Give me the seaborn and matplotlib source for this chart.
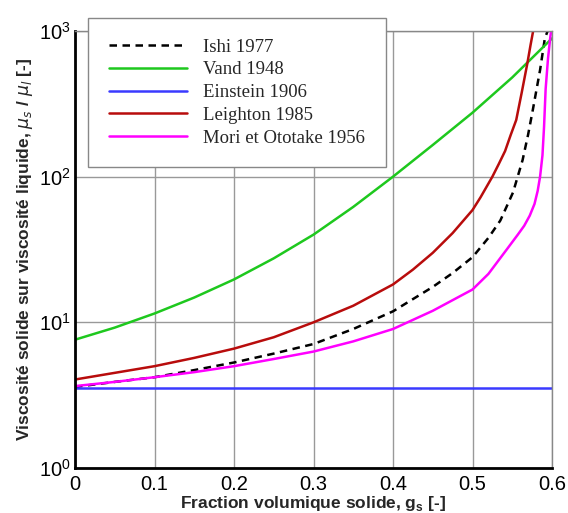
import numpy as np
import pandas as pd
import matplotlib
matplotlib.use("Agg")
import matplotlib.pyplot as plt
import seaborn as sns
from matplotlib.ticker import LogLocator, NullFormatter, MultipleLocator

# values (gs, mu_s/mu_l)
ishi_x = [0, 0.05, 0.1, 0.15, 0.2, 0.25, 0.3, 0.35, 0.4, 0.45, 0.475, 0.5, 0.52, 0.535, 0.551,
          0.563, 0.57, 0.576, 0.585, 0.591, 0.596]
ishi_y = [3.6, 3.9, 4.2, 4.7, 5.3, 6.1, 7.1, 9.0, 11.9, 17.5, 21.8, 28, 38, 50, 78,
          130, 195, 290, 540, 890, 1050]

vand_x = [0, 0.05, 0.1, 0.15, 0.2, 0.25, 0.3, 0.35, 0.4, 0.45, 0.5, 0.55, 0.6]
vand_y = [7.6, 9.2, 11.5, 14.8, 19.7, 27.5, 40, 62, 100, 165, 275, 480, 890]

einstein_x = [0, 0.6]
einstein_y = [3.55, 3.55]

leighton_x = [0, 0.05, 0.1, 0.15, 0.2, 0.25, 0.3, 0.35, 0.4, 0.425, 0.45, 0.475, 0.49, 0.5,
              0.51, 0.525, 0.533, 0.541, 0.548, 0.555, 0.562, 0.569, 0.573, 0.577]
leighton_y = [4.05, 4.5, 5.0, 5.7, 6.6, 7.9, 10, 13, 18.2, 23, 30, 41, 51, 59,
              72, 100, 122, 150, 193, 245, 380, 600, 800, 1050]

mori_x = [0, 0.05, 0.1, 0.15, 0.2, 0.25, 0.3, 0.35, 0.4, 0.45, 0.5, 0.52, 0.543, 0.557, 0.565,
          0.572, 0.578, 0.582, 0.585, 0.588, 0.59, 0.592, 0.595, 0.598, 0.6]
mori_y = [3.65, 3.9, 4.2, 4.55, 5.0, 5.6, 6.3, 7.4, 9.0, 12, 16.8, 21.5, 31.6, 40, 46,
          54, 65, 80, 100, 140, 220, 400, 650, 920, 1100]

series = [
    ("Ishi 1977", ishi_x, ishi_y, "black", (0, (3, 2.2))),
    ("Vand 1948", vand_x, vand_y, "#1ec81e", "-"),
    ("Einstein 1906", einstein_x, einstein_y, "#3a3aff", "-"),
    ("Leighton 1985", leighton_x, leighton_y, "#b80c0c", "-"),
    ("Mori et Ototake 1956", mori_x, mori_y, "#ff00ff", "-"),
]

sns.set_style("white")

fig = plt.figure(figsize=(5.68, 5.13), dpi=100)
ax = fig.add_axes([75 / 568, 1 - 468 / 513, 477 / 568, 437 / 513])

for name, xs, ys, col, ls in series:
    df = pd.DataFrame({"gs": xs, "mu": ys})
    sns.lineplot(data=df, x="gs", y="mu", color=col, linestyle=ls, lw=1.8,
                 label=name, ax=ax, sort=False, legend=False)

ax.set_yscale("log")
ax.set_xlim(0, 0.6)
ax.set_ylim(1, 1000)
ax.xaxis.set_major_locator(MultipleLocator(0.1))
ax.xaxis.set_minor_locator(MultipleLocator(0.02))
ax.yaxis.set_major_locator(LogLocator(base=10))
ax.yaxis.set_minor_locator(LogLocator(base=10, subs=np.arange(2, 10)))
ax.yaxis.set_minor_formatter(NullFormatter())
ax.set_xticks([0, 0.1, 0.2, 0.3, 0.4, 0.5, 0.6])
ax.set_xticklabels(["0", "0.1", "0.2", "0.3", "0.4", "0.5", "0.6"])

ax.grid(True, which="major", color="#999999", lw=1)
ax.tick_params(which="major", direction="in", length=7, width=1.2, labelsize=14.5,
               colors="black")
ax.tick_params(axis="x", which="major", pad=5)
ax.tick_params(axis="y", which="major", pad=3)
ax.tick_params(which="minor", direction="in", length=3.5, width=0.8, color="#555555")
for lab in ax.get_xticklabels() + ax.get_yticklabels():
    lab.set_family("Liberation Sans")

for s in ["left", "bottom"]:
    ax.spines[s].set_color("black")
    ax.spines[s].set_linewidth(2)
for s in ["top", "right"]:
    ax.spines[s].set_color("#888888")
    ax.spines[s].set_linewidth(1)

ax.set_xlabel("Fraction volumique solide, g$_\\mathregular{s}$ [-]", fontsize=12.5,
              fontweight="bold", family="Liberation Sans", labelpad=0)
ax.set_ylabel("Viscosité solide sur viscosité liquide, $\\mu_s$ / $\\mu_l$ [-]", fontsize=12.5,
              fontweight="bold", family="Liberation Sans", labelpad=3)

handles, labels = ax.get_legend_handles_labels()
leg = fig.legend(handles, labels, loc="upper left", bbox_to_anchor=(88 / 568, 1 - 18 / 513),
                 prop={"family": "Liberation Serif", "size": 13.5}, frameon=True, fancybox=False,
                 edgecolor="#888888", framealpha=1, handlelength=4.2, handletextpad=0.85,
                 labelspacing=0.3, borderpad=1.1, borderaxespad=0)
leg.get_frame().set_linewidth(1)

fig.savefig("out.png", dpi=100)
